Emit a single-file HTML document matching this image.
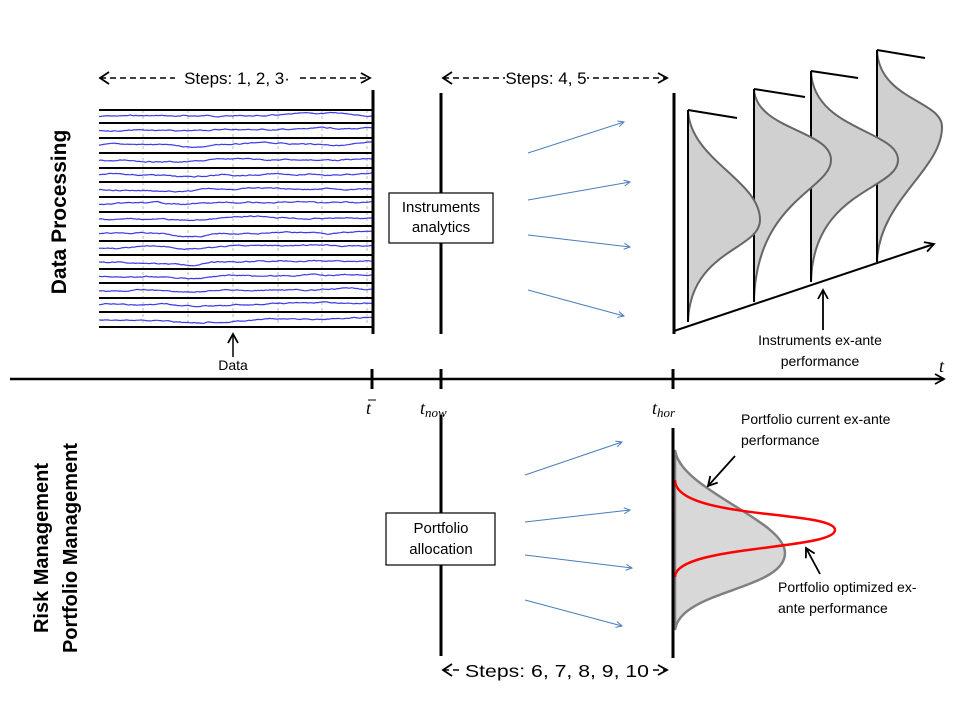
<!DOCTYPE html>
<html><head><meta charset="utf-8"><style>
body{margin:0;background:#fff}
svg{display:block}
text{font-family:"Liberation Sans",sans-serif;fill:#000}
.m{font-family:"Liberation Serif",serif;font-style:italic}
</style></head><body>
<svg id="s" width="960" height="720" viewBox="0 0 960 720" xmlns="http://www.w3.org/2000/svg">
<defs>
<marker id="ah" markerWidth="12" markerHeight="12" refX="10" refY="6" orient="auto" markerUnits="userSpaceOnUse"><path d="M1,1 L10,6 L1,11" fill="none" stroke="#000" stroke-width="1.8"/></marker>
<marker id="ab" markerWidth="8" markerHeight="8" refX="7" refY="4" orient="auto" markerUnits="userSpaceOnUse"><path d="M1,1 L7,4 L1,7" fill="none" stroke="#4a7ebb" stroke-width="1"/></marker>
</defs>
<g id="grid" stroke="#bbb" stroke-dasharray="3,3" stroke-width="1"></g>
<g id="series" fill="none" stroke="#3a3ae8" stroke-width="1.2"></g>
<g id="rows" stroke="#000" stroke-width="2"></g>

<line x1="373" y1="90" x2="373" y2="334" stroke="#000" stroke-width="3"/>
<line x1="441" y1="93" x2="441" y2="334" stroke="#000" stroke-width="3"/>
<line x1="441" y1="415" x2="441" y2="656" stroke="#000" stroke-width="3"/>
<line x1="674" y1="93" x2="674" y2="334" stroke="#000" stroke-width="3"/>

<line x1="10" y1="379" x2="944" y2="379" stroke="#000" stroke-width="2.5" marker-end="url(#ah)"/>
<line x1="372" y1="369" x2="372" y2="389" stroke="#000" stroke-width="3"/>
<line x1="441" y1="369" x2="441" y2="389" stroke="#000" stroke-width="3"/>
<line x1="673" y1="369" x2="673" y2="389" stroke="#000" stroke-width="3"/>
<text x="939" y="372" class="m" font-size="18">t</text>
<text x="366" y="414" class="m" font-size="18">t</text><line x1="368" y1="400" x2="376" y2="400" stroke="#000"/>
<text x="420" y="414" class="m" font-size="18">t<tspan font-size="13" dy="3">now</tspan></text>
<text x="652" y="414" class="m" font-size="18">t<tspan font-size="13" dy="3">hor</tspan></text>

<line x1="100" y1="78" x2="370" y2="78" stroke="#000" stroke-width="1.5" stroke-dasharray="6,4" marker-end="url(#ah)"/>
<path d="M109,72 L100,78 L109,84" fill="none" stroke="#000" stroke-width="1.8"/>
<rect x="175" y="66" width="124" height="22" fill="#fff"/>
<text x="237" y="84" font-size="17" text-anchor="middle">Steps: 1, 2, 3·</text>
<line x1="443" y1="78" x2="667" y2="78" stroke="#000" stroke-width="1.5" stroke-dasharray="6,4" marker-end="url(#ah)"/>
<path d="M452,72 L443,78 L452,84" fill="none" stroke="#000" stroke-width="1.8"/>
<rect x="505" y="66" width="82" height="22" fill="#fff"/>
<text x="546" y="84" font-size="17" text-anchor="middle">Steps: 4, 5</text>
<line x1="443" y1="670" x2="667" y2="670" stroke="#000" stroke-width="1.5" stroke-dasharray="6,4" marker-end="url(#ah)"/>
<path d="M452,664 L443,670 L452,676" fill="none" stroke="#000" stroke-width="1.8"/>
<rect x="462" y="658" width="190" height="24" fill="#fff"/>
<text x="557" y="677" font-size="17.5" text-anchor="middle" textLength="184" lengthAdjust="spacingAndGlyphs">Steps: 6, 7, 8, 9, 10</text>

<text transform="translate(66,212) rotate(-90)" font-size="21" font-weight="bold" text-anchor="middle">Data Processing</text>
<text transform="translate(48,548) rotate(-90)" font-size="20" font-weight="bold" text-anchor="middle">Risk Management</text>
<text transform="translate(77,548) rotate(-90)" font-size="20" font-weight="bold" text-anchor="middle">Portfolio Management</text>

<line x1="233" y1="357" x2="233" y2="334" stroke="#000" stroke-width="1.5" marker-end="url(#ah)"/>
<text x="233" y="370" font-size="14" text-anchor="middle">Data</text>

<rect x="389" y="193" width="104" height="50" fill="#fff" stroke="#000" stroke-width="1.2"/>
<text x="441" y="212" font-size="15" text-anchor="middle">Instruments</text>
<text x="441" y="232" font-size="15" text-anchor="middle">analytics</text>
<rect x="386" y="513" width="109" height="52" fill="#fff" stroke="#000" stroke-width="1.2"/>
<text x="441" y="533" font-size="15" text-anchor="middle">Portfolio</text>
<text x="441" y="554" font-size="15" text-anchor="middle">allocation</text>

<g stroke="#4a7ebb" stroke-width="1" marker-end="url(#ab)">
<line x1="528" y1="153" x2="624" y2="122"/><line x1="528" y1="200" x2="630" y2="182"/>
<line x1="528" y1="235" x2="630" y2="247"/><line x1="528" y1="290" x2="624" y2="316"/>
<line x1="525" y1="475" x2="622" y2="442"/><line x1="525" y1="522" x2="630" y2="510"/>
<line x1="525" y1="555" x2="632" y2="568"/><line x1="525" y1="600" x2="622" y2="626"/>
</g>

<line x1="674" y1="331" x2="934" y2="244" stroke="#000" stroke-width="2" marker-end="url(#ah)"/>
<g stroke-width="2">
<path d="M877,50 C879,100 942,100 942,127 C942,170 879,200 877,262 Z" fill="#d0d0d0" stroke="#666"/>
<line x1="877" y1="50" x2="877" y2="262" stroke="#000"/><line x1="877" y1="50" x2="925" y2="58" stroke="#000"/>
<path d="M811,71 C813,130 898,130 898,160 C898,190 813,190 811,282 Z" fill="#d0d0d0" stroke="#666"/>
<line x1="811" y1="71" x2="811" y2="282" stroke="#000"/><line x1="811" y1="71" x2="858" y2="78" stroke="#000"/>
<path d="M754,89 C756,130 831,130 831,160 C831,190 756,200 754,302 Z" fill="#d0d0d0" stroke="#666"/>
<line x1="754" y1="89" x2="754" y2="302" stroke="#000"/><line x1="754" y1="89" x2="805" y2="97" stroke="#000"/>
<path d="M688,110 C690,160 760,180 760,220 C760,250 690,250 688,322 Z" fill="#d0d0d0" stroke="#666"/>
<line x1="688" y1="110" x2="688" y2="322" stroke="#000"/><line x1="688" y1="110" x2="737" y2="118" stroke="#000"/>
</g>
<line x1="823" y1="330" x2="823" y2="290" stroke="#000" stroke-width="1.8" marker-end="url(#ah)"/>
<text x="820" y="345" font-size="14" text-anchor="middle">Instruments ex-ante</text>
<text x="820" y="366" font-size="14" text-anchor="middle">performance</text>

<path d="M675,450 C680,490 785,520 785,553 C785,590 680,590 675,630 Z" fill="#d8d8d8" stroke="#808080" stroke-width="2.5"/>
<path d="M675,480 C675,520 835,510 835,530 C835,550 675,545 675,577" fill="none" stroke="#f00" stroke-width="2.5"/>
<line x1="673" y1="428" x2="673" y2="658" stroke="#000" stroke-width="3"/>
<line x1="735" y1="456" x2="708" y2="486" stroke="#000" stroke-width="1.8" marker-end="url(#ah)"/>
<line x1="820" y1="574" x2="806" y2="548" stroke="#000" stroke-width="1.8" marker-end="url(#ah)"/>
<text x="741" y="424" font-size="14">Portfolio current ex-ante</text>
<text x="741" y="445" font-size="14">performance</text>
<text x="778" y="592" font-size="14">Portfolio optimized ex-</text>
<text x="778" y="613" font-size="14">ante performance</text>
</svg>
<script>
(function(){
var NS="http://www.w3.org/2000/svg";
var ys=[110,123,138,153,168,182,197,212,226,241,255,269,283,298,312,327];
var rows=document.getElementById("rows"),grid=document.getElementById("grid"),ser=document.getElementById("series");
[143,188,233,278,322,367].forEach(function(x){var l=document.createElementNS(NS,"line");l.setAttribute("x1",x);l.setAttribute("x2",x);l.setAttribute("y1",110);l.setAttribute("y2",327);grid.appendChild(l);});
ys.forEach(function(y){var l=document.createElementNS(NS,"line");l.setAttribute("x1",99);l.setAttribute("x2",372);l.setAttribute("y1",y);l.setAttribute("y2",y);rows.appendChild(l);});
var seed=7;function r(){seed=(seed*9301+49297)%233280;return seed/233280;}
for(var i=0;i<15;i++){var mid=(ys[i]+ys[i+1])/2,v=0,d="";
for(var x=99;x<=372;x+=1.5){v+= (r()-0.5)*0.9; v*=0.97; var dip=Math.exp(-Math.pow((x-188)/25,2))*2.5*(i%3?1:0.4);
var yy=mid+v+dip-(x-99)/273*1.2;d+=(x==99?"M":"L")+x.toFixed(1)+","+yy.toFixed(1);}
var p=document.createElementNS(NS,"path");p.setAttribute("d",d);ser.appendChild(p);}
})();
</script>
</body></html>
